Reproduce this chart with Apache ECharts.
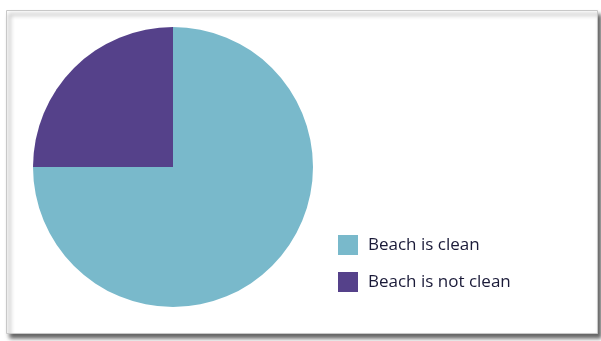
<!DOCTYPE html>
<html>
<head>
    <meta charset="utf-8">
    <title>Beach</title>
    <script src="https://cdn.jsdelivr.net/npm/echarts@6/dist/echarts.min.js"></script>
    <style>
        body { margin: 0; background: #fff; }
        #main { width: 601px; height: 341px; }
    </style>
</head>
<body>
<div id="main"></div>
<script>
// 数据
const categories = ['Beach is clean', 'Beach is not clean'];
const values = [75, 25];
const colors = ['#79b9cb', '#55418a'];

const chart = echarts.init(document.getElementById('main'));

chart.setOption({
    animation: false,
    graphic: [{
        type: 'rect',
        shape: { x: 6.5, y: 10.5, width: 591, height: 323 },
        style: {
            fill: '#fff',
            stroke: '#c8c8c8',
            lineWidth: 1,
            shadowColor: 'rgba(0,0,0,0.6)',
            shadowBlur: 4,
            shadowOffsetX: 3,
            shadowOffsetY: 4
        },
        z: -10
    }],
    legend: {
        orient: 'vertical',
        left: 333,
        top: 230,
        itemWidth: 20,
        itemHeight: 20,
        itemGap: 17,
        icon: 'rect',
        textStyle: {
            fontFamily: 'Open Sans',
            fontSize: 17,
            color: '#1a1a38',
            padding: [0, 0, 0, 5]
        },
        data: categories
    },
    series: [{
        type: 'pie',
        center: [173, 167],
        radius: 140,
        startAngle: 90,
        clockwise: true,
        label: { show: false },
        labelLine: { show: false },
        emphasis: { disabled: true },
        itemStyle: { borderWidth: 0 },
        data: categories.map((name, i) => ({
            name: name,
            value: values[i],
            itemStyle: { color: colors[i] }
        }))
    }]
});
</script>
</body>
</html>
